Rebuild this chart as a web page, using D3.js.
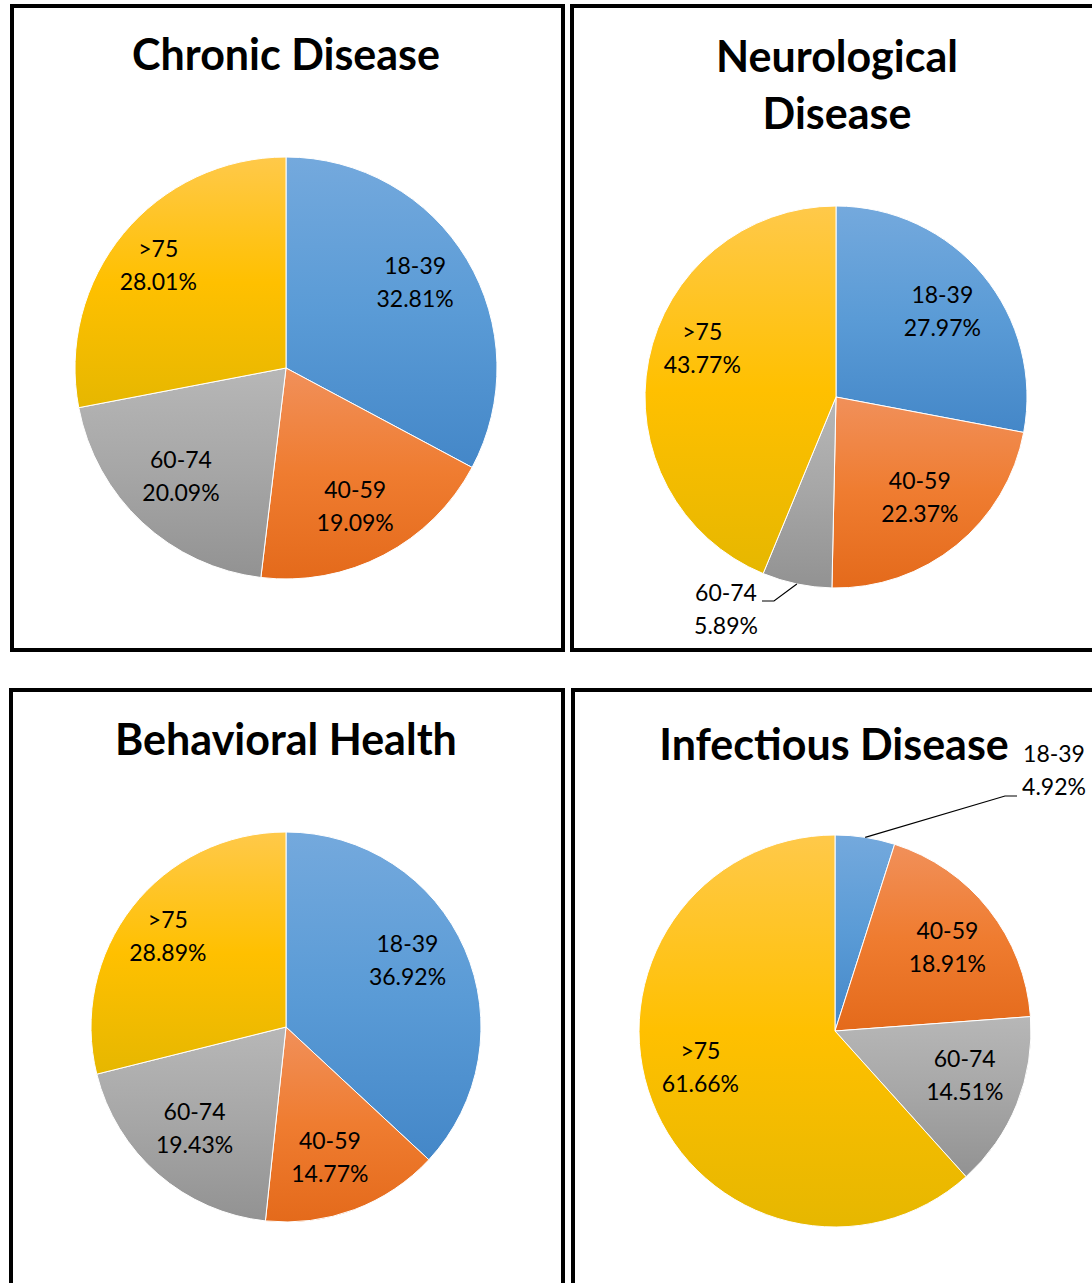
<!DOCTYPE html>
<html lang="en">
<head>
    <meta charset="UTF-8">
    <title>Age distribution by disease category</title>
    <script src="https://d3js.org/d3.v7.min.js"></script>
    <style>
        body { margin: 0; background: #fff; }
        svg { display: block; }
        .title { font-family: Lato, "Open Sans", sans-serif; font-weight: bold; font-size: 43px; fill: #000; }
        .lbl { font-family: Lato, "Open Sans", sans-serif; font-size: 23px; fill: #000; }
    </style>
</head>
<body>
    <div id="chart"></div>
    <script>
        const ageGroups = ["18-39", "40-59", "60-74", ">75"];
        const chronicPct = [32.81, 19.09, 20.09, 28.01];
        const neuroPct = [27.97, 22.37, 5.89, 43.77];
        const behavioralPct = [36.92, 14.77, 19.43, 28.89];
        const infectiousPct = [4.92, 18.91, 14.51, 61.66];

        // gradient stops per age group: top, middle, bottom
        const sliceColors = [
            ["#74a9dd", "#5a9bd6", "#4487c8"],
            ["#f1905a", "#ef7c30", "#e46a1b"],
            ["#b7b7b7", "#a6a6a6", "#929292"],
            ["#ffc94a", "#ffc000", "#e6b700"]
        ];

        const width = 1092, height = 1283;

        // nudge = small shift of each inside label from its centroid (best-fit placement)
        const panels = [
            { values: chronicPct, title: ["Chronic Disease"], titleY: [70],
              box: [12, 6, 551, 644], cx: 286, cy: 368, r: 211,
              nudge: [[-3, -7], [-2, 1], [0, -5], [-9, -5]] },
            { values: neuroPct, title: ["Neurological", "Disease"], titleY: [72, 129],
              box: [572, 6, 600, 644], cx: 836, cy: 397, r: 191, titleX: 837,
              nudge: [[-1, 3], [-4, -8], [0, 0], [3, -22]],
              outside: { idx: 2, tx: -110, ty: 204, elbow: [-62, 204], end: [-74, 204] } },
            { values: behavioralPct, title: ["Behavioral Health"], titleY: [755],
              box: [11, 690, 552, 600], cx: 286, cy: 1027, r: 195,
              nudge: [[-9, -10], [-6, -3], [2, -6], [-6, -3]] },
            { values: infectiousPct, title: ["Infectious Disease"], titleY: [760],
              box: [573, 690, 600, 600], cx: 835, cy: 1031, r: 196, titleX: 834,
              nudge: [[0, 0], [0, 5], [-3, -9], [-1, -15]],
              outside: { idx: 0, tx: 219, ty: -269, elbow: [170, -235], end: [182, -235] } }
        ];

        const svg = d3.select("#chart")
            .append("svg")
            .attr("width", width)
            .attr("height", height);

        const defs = svg.append("defs");
        sliceColors.forEach((c, i) => {
            const g = defs.append("linearGradient")
                .attr("id", "grad" + i)
                .attr("x1", 0).attr("y1", 0).attr("x2", 0).attr("y2", 1);
            g.append("stop").attr("offset", "0%").attr("stop-color", c[0]);
            g.append("stop").attr("offset", "50%").attr("stop-color", c[1]);
            g.append("stop").attr("offset", "100%").attr("stop-color", c[2]);
        });

        const pie = d3.pie().sort(null).value(d => d);

        panels.forEach(p => {
            // panel frame
            svg.append("rect")
                .attr("x", p.box[0]).attr("y", p.box[1])
                .attr("width", p.box[2]).attr("height", p.box[3])
                .attr("fill", "none")
                .attr("stroke", "#000")
                .attr("stroke-width", 4);

            const tx = p.titleX || p.cx;
            p.title.forEach((t, i) => {
                svg.append("text")
                    .attr("class", "title")
                    .attr("x", tx)
                    .attr("y", p.titleY[i])
                    .attr("text-anchor", "middle")
                    .text(t);
            });

            const g = svg.append("g").attr("transform", `translate(${p.cx},${p.cy})`);
            const arc = d3.arc().innerRadius(0).outerRadius(p.r);
            const labelArc = d3.arc().innerRadius(p.r * 0.73).outerRadius(p.r * 0.73);
            const edgeArc = d3.arc().innerRadius(p.r).outerRadius(p.r);
            const arcs = pie(p.values);

            g.selectAll("path")
                .data(arcs)
                .enter().append("path")
                .attr("d", arc)
                .attr("fill", (d, i) => `url(#grad${i})`)
                .attr("stroke", "#fff")
                .attr("stroke-width", 1);

            arcs.forEach((d, i) => {
                const lines = [ageGroups[i], d.data.toFixed(2) + "%"];
                let x, y0;
                if (p.outside && p.outside.idx === i) {
                    const o = p.outside;
                    x = o.tx; y0 = o.ty;
                    const s = edgeArc.centroid(d);
                    g.append("polyline")
                        .attr("points", [s, o.elbow, o.end].map(q => q.join(",")).join(" "))
                        .attr("fill", "none")
                        .attr("stroke", "#000")
                        .attr("stroke-width", 1.2);
                } else {
                    const c = labelArc.centroid(d);
                    x = c[0] + p.nudge[i][0];
                    y0 = c[1] - 8 + p.nudge[i][1];
                }
                const t = g.append("text")
                    .attr("class", "lbl")
                    .attr("text-anchor", "middle");
                lines.forEach((l, k) => {
                    t.append("tspan")
                        .attr("x", x)
                        .attr("y", y0 + k * 33)
                        .text(l);
                });
            });
        });
    </script>
</body>
</html>
